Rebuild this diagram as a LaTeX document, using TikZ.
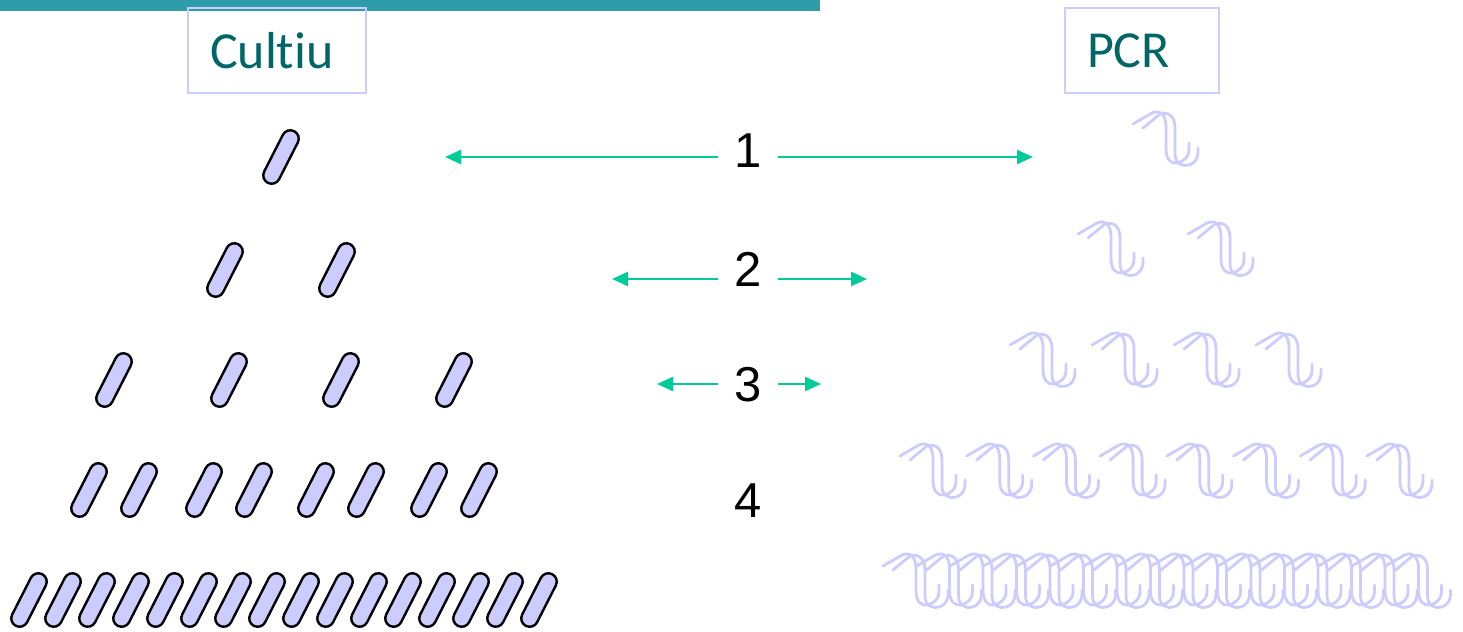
\documentclass[tikz,border=0pt]{standalone}
\usepackage{fontspec}
\setmainfont{Liberation Sans}
\newfontfamily\titlefont[Ligatures=NoCommon]{Carlito}
\usetikzlibrary{arrows.meta}

\definecolor{barteal}{HTML}{2E9CAA}
\definecolor{titleteal}{HTML}{006666}
\definecolor{lavender}{HTML}{CCCCFF}
\definecolor{mint}{HTML}{00CC99}

\tikzset{
  amplicon/.pic={
    \draw [strand] (0,0) -- (19,-11) .. controls (29,-15) and (33,-7) .. (33,3)
      -- (33,25) .. controls (33,35) and (38,40) .. (44,39)
      .. controls (52,37) and (56,32) .. (56,26) -- (56,19);
    \draw [strand] (10,4) -- (27,-10) .. controls (37,-13) and (42,-6) .. (42,4)
      -- (42,30) .. controls (42,40) and (50,43) .. (56,41)
      .. controls (63,39) and (65,33) .. (65,28) -- (65,24);
  },
}

\begin{document}
\begin{tikzpicture}[x=0.5pt, y=-0.5pt]
\tikzset{
  strand/.style={lavender, line width=1.4pt, line cap=round, line join=round},
  rod/.style={draw=black, fill=lavender, line width=1.2pt, rounded corners=4.2pt,
              minimum width=29pt, minimum height=8.4pt, inner sep=0pt, rotate=63},
  titlebox/.style={draw=lavender, line width=1pt, anchor=north west, align=left,
                   minimum height=42.5pt, inner xsep=11pt, text=titleteal,
                   font=\titlefont\fontsize{26}{30}\selectfont},
  cyclenum/.style={font=\fontsize{24.5}{28}\selectfont, inner xsep=8pt, inner ysep=0pt},
  growth/.style={mint, line width=1.2pt, -{Triangle[length=8pt, width=7pt]}},
}

\useasboundingbox (0,0) rectangle (1463,632);
\fill [barteal] (0,0) rectangle (820,11);

\node [titlebox, text width=67pt] (cultiu) at (187,7) {Cultiu};
\node [titlebox, text width=55pt] (pcr) at (1064,7) {PCR};

% bacteria doubling
\node [rod] (a1) at (281,157) {};
\foreach \x [count=\i] in {225,337} \node [rod] (b\i) at (\x,270) {};
\foreach \x [count=\i] in {114,229,341,454} \node [rod] (c\i) at (\x,380) {};
\foreach \x [count=\i] in {89,139,204,254,316,366,429,479} \node [rod] (d\i) at (\x,490) {};
\foreach \i in {1,...,16} \node [rod] (e\i) at ({29+34*(\i-1)},600) {};

% copies of DNA
\pic at (1133,124) {amplicon};
\foreach \x in {1078,1188} \pic at (\x,234) {amplicon};
\foreach \x in {1010,1092,1174,1256} \pic at (\x,345) {amplicon};
\foreach \i in {0,...,7} \pic at ({900+66.7*\i},456) {amplicon};
\foreach \i in {0,...,15} \pic at ({883+33.5*\i},566) {amplicon};

% generations
\node [cyclenum] (n1) at (748,151) {1};
\node [cyclenum] (n2) at (748,269) {2};
\node [cyclenum] (n3) at (748,385) {3};
\node [cyclenum] (n4) at (748,501) {4};

\coordinate (l1) at (445,157);
\coordinate (r1) at (1033,157);
\coordinate (l2) at (612,279);
\coordinate (r2) at (867,279);
\coordinate (l3) at (657,384);
\coordinate (r3) at (821,384);

\draw [growth] (n1.west |- l1) -- (l1);
\draw [growth] (n1.east |- r1) -- (r1);
\draw [growth] (n2.west |- l2) -- (l2);
\draw [growth] (n2.east |- r2) -- (r2);
\draw [growth] (n3.west |- l3) -- (l3);
\draw [growth] (n3.east |- r3) -- (r3);

\end{tikzpicture}
\end{document}
